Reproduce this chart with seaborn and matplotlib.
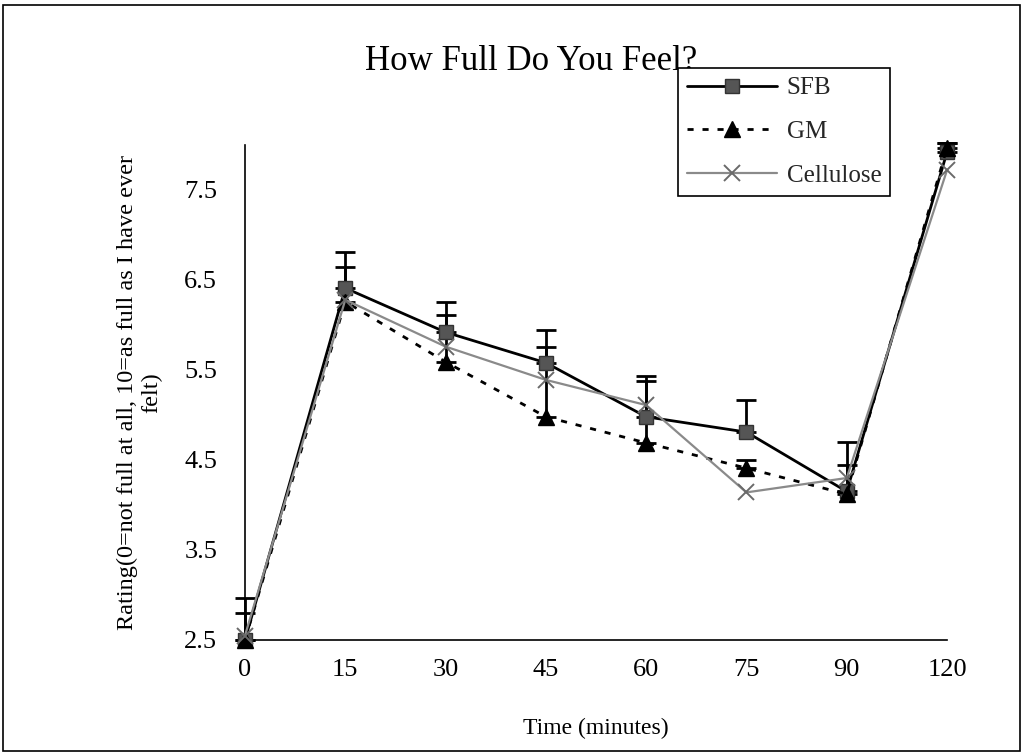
import numpy as np
import pandas as pd
import matplotlib
matplotlib.use("Agg")
import matplotlib.pyplot as plt
from matplotlib.patches import Rectangle
from matplotlib.lines import Line2D
import seaborn as sns

# ---- data ----
times = ["0", "15", "30", "45", "60", "75", "90", "120"]
sfb = [2.5, 6.41, 5.92, 5.58, 4.98, 4.81, 4.15, 7.92]
gm = [2.5, 6.26, 5.59, 4.98, 4.69, 4.41, 4.12, 7.97]
cellulose = [2.55, 6.28, 5.76, 5.39, 5.11, 4.14, 4.30, 7.72]
sfb_err = [0.47, 0.40, 0.34, 0.36, 0.45, 0.36, 0.55, 0.10]
gm_err = [0.30, 0.38, 0.52, 0.78, 0.69, 0.09, 0.33, 0.05]
series_names = ["SFB", "GM", "Cellulose"]
y_ticks = [2.5, 3.5, 4.5, 5.5, 6.5, 7.5]

sns.set_theme(style="white")
plt.rcParams['font.family'] = ['Liberation Serif', 'DejaVu Serif']

pos = np.arange(len(times))
df = pd.DataFrame({
    "pos": np.tile(pos, 3),
    "value": sfb + gm + cellulose,
    "series": np.repeat(series_names, len(times)),
})

fig = plt.figure(figsize=(10.26, 7.55), dpi=100)
ax = fig.add_axes([245/1026, 1-640/755, (947-245)/1026, (640-145)/755])

styles = {
    "SFB": dict(color="black", lw=2.0, ls="-", marker="s", ms=10, mfc="#555555", mec="#333333", mew=1),
    "GM": dict(color="black", lw=2.0, ls=(0, (2.2, 3.2)), marker="^", ms=11, mfc="black", mec="black", mew=1),
    "Cellulose": dict(color="#8a8a8a", lw=1.6, ls="-", marker="x", ms=12, mfc="none", mec="#6a6a6a", mew=1.4),
}

# error bars (upper only)
for vals, errs in [(sfb, sfb_err), (gm, gm_err)]:
    ax.errorbar(pos, vals, yerr=[np.zeros(len(errs)), errs], fmt="none",
                ecolor="black", elinewidth=2, capsize=7, capthick=2, clip_on=False, zorder=3)

for name in series_names:
    st = styles[name]
    sub = df[df["series"] == name]
    sns.lineplot(data=sub, x="pos", y="value", ax=ax, color=st["color"],
                 linewidth=st["lw"], linestyle=st["ls"], marker=st["marker"],
                 markersize=st["ms"], markerfacecolor=st["mfc"],
                 markeredgecolor=st["mec"], markeredgewidth=st["mew"],
                 legend=False, clip_on=False, zorder=4)

ax.set_xlim(0, len(times) - 1)
ax.set_ylim(2.5, 8.0)
ax.set_xticks(pos)
ax.set_xticklabels(times)
ax.set_yticks(y_ticks)
ax.set_yticklabels([f"{v:.1f}" for v in y_ticks])
for s in ["top", "right"]:
    ax.spines[s].set_visible(False)
for s in ["left", "bottom"]:
    ax.spines[s].set_color("black")
    ax.spines[s].set_linewidth(1.2)
ax.tick_params(axis="both", direction="out", length=6, width=1.2, color="black",
               labelsize=19, labelcolor="black")
ax.tick_params(axis="y", pad=14)
ax.tick_params(axis="x", pad=8)
ax.grid(False)

ax.set_xlabel("Time (minutes)", fontsize=17, color="black", labelpad=26)
ax.set_ylabel("Rating(0=not full at all, 10=as full as I have ever\nfelt)",
              fontsize=17.5, color="black", linespacing=1.15, labelpad=16)

fig.text(531/1026, 1-62/755, "How Full Do You Feel?", fontsize=25, color="black",
         ha="center", va="center")

handles = []
for name in series_names:
    st = styles[name]
    handles.append(Line2D([], [], color=st["color"], lw=st["lw"], ls=st["ls"],
                          marker=st["marker"], ms=st["ms"], mfc=st["mfc"],
                          mec=st["mec"], mew=st["mew"]))
leg = fig.legend(handles, series_names, loc="upper left",
                 bbox_to_anchor=(678/1026, 1-68/755), fontsize=18,
                 frameon=True, fancybox=False, handlelength=3.6,
                 handletextpad=0.4, labelspacing=0.85, borderpad=0.35,
                 borderaxespad=0)
leg.get_frame().set_edgecolor("black")
leg.get_frame().set_linewidth(1.2)
leg.get_frame().set_facecolor("white")
leg.get_frame().set_alpha(1)
leg.set_zorder(10)

fig.patches.append(Rectangle((3/1026, 4/755), 1017/1026, 746/755, transform=fig.transFigure,
                             fill=False, edgecolor="black", linewidth=1.2))

fig.savefig("out.png", dpi=100, facecolor="white")
